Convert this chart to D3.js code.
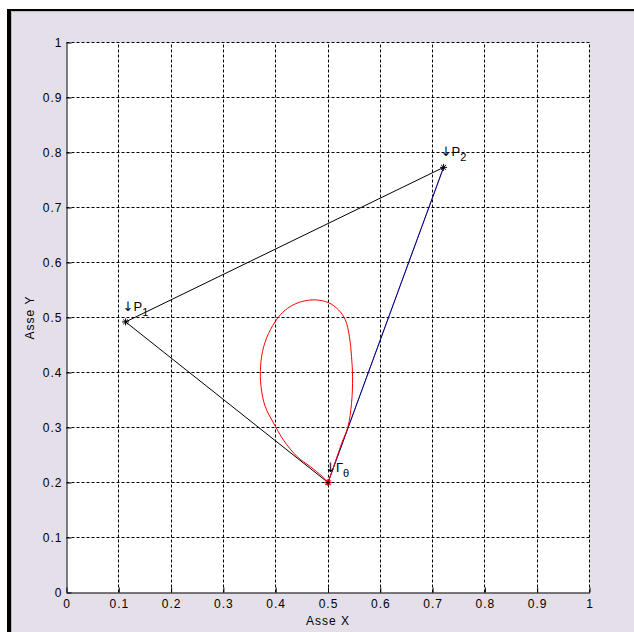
<!DOCTYPE html>
<html>
<head>
<meta charset="utf-8">
<script src="https://cdn.jsdelivr.net/npm/d3@7"></script>
<style>
  html, body { margin: 0; padding: 0; background: #ffffff; }
  svg { display: block; }
  text { font-family: "Liberation Sans", Arial, sans-serif; }
</style>
</head>
<body>
<svg id="chart" width="634" height="632"></svg>
<script>
// Axis ticks and their labels
const tickValues = [0, 0.1, 0.2, 0.3, 0.4, 0.5, 0.6, 0.7, 0.8, 0.9, 1];
const tickLabels = ["0", "0.1", "0.2", "0.3", "0.4", "0.5", "0.6", "0.7", "0.8", "0.9", "1"];

// Triangle vertices P1, P2 and the apex point
const vertexX = [0.113, 0.721, 0.5];
const vertexY = [0.492, 0.773, 0.2];
const vertexNames = ["P", "P", "Γ"];
const vertexSubs = ["1", "2", "θ"];

// Closed red loop, starting and ending at the apex
const loopX = [0.500, 0.513, 0.526, 0.538, 0.545, 0.547, 0.545, 0.541, 0.533, 0.520, 0.501, 0.476,
               0.450, 0.428, 0.409, 0.390, 0.377, 0.371, 0.372, 0.380, 0.396, 0.415, 0.441, 0.466,
               0.489, 0.500];
const loopY = [0.200, 0.235, 0.271, 0.301, 0.344, 0.392, 0.429, 0.465, 0.496, 0.514, 0.527, 0.532,
               0.529, 0.520, 0.505, 0.478, 0.447, 0.411, 0.374, 0.338, 0.308, 0.277, 0.247, 0.229,
               0.211, 0.200];

const svg = d3.select("#chart");

// Window frame: white margin, dark border on top/left, grey figure face
svg.append("rect").attr("x", 0).attr("y", 0).attr("width", 634).attr("height", 632).attr("fill", "#ffffff");
svg.append("rect").attr("x", 7).attr("y", 9).attr("width", 627).attr("height", 623).attr("fill", "#000000");
svg.append("rect").attr("x", 11).attr("y", 11).attr("width", 623).attr("height", 621).attr("fill", "#bdbac0");
svg.append("rect").attr("x", 12).attr("y", 12).attr("width", 622).attr("height", 620).attr("fill", "#e4dfe8");

const x = d3.scaleLinear().domain([0, 1]).range([66.5, 589.5]);
const y = d3.scaleLinear().domain([0, 1]).range([592.5, 42.5]);

// Plot background
svg.append("rect")
  .attr("x", x(0)).attr("y", y(1))
  .attr("width", x(1) - x(0)).attr("height", y(0) - y(1))
  .attr("fill", "#ffffff");

// Dotted grid
const grid = svg.append("g").attr("stroke", "#000").attr("stroke-width", 1)
  .attr("stroke-dasharray", "3,2").attr("fill", "none");
grid.selectAll("line.v").data(tickValues.slice(1)).join("line")
  .attr("class", "v")
  .attr("x1", d => Math.round(x(d) - 0.5) + 0.5).attr("x2", d => Math.round(x(d) - 0.5) + 0.5)
  .attr("y1", y(0)).attr("y2", y(1));
grid.selectAll("line.h").data(tickValues.slice(1)).join("line")
  .attr("class", "h")
  .attr("y1", d => Math.round(y(d) - 0.5) + 0.5).attr("y2", d => Math.round(y(d) - 0.5) + 0.5)
  .attr("x1", x(0)).attr("x2", x(1));

// Axes with inward ticks
const fmt = d => tickLabels[tickValues.indexOf(d)];
const xAxis = d3.axisBottom(x).tickValues(tickValues).tickFormat(fmt)
  .tickSizeInner(-5).tickSizeOuter(0).tickPadding(7);
const yAxis = d3.axisLeft(y).tickValues(tickValues).tickFormat(fmt)
  .tickSizeInner(-5).tickSizeOuter(0).tickPadding(4);

const gx = svg.append("g").attr("transform", `translate(0,${y(0)})`).call(xAxis);
const gy = svg.append("g").attr("transform", `translate(${x(0)},0)`).call(yAxis);
[gx, gy].forEach(g => {
  g.select(".domain").attr("stroke", "#000").attr("stroke-width", 1);
  g.selectAll(".tick line").attr("stroke", "#000");
  g.selectAll(".tick text").attr("fill", "#000")
    .style("font-family", '"Liberation Sans", Arial, sans-serif')
    .style("font-size", "12px").style("letter-spacing", "1px");
});
gy.selectAll(".tick text").attr("x", -4);

// Axis titles
svg.append("text")
  .attr("x", x(0.5)).attr("y", 625)
  .attr("text-anchor", "middle")
  .style("font-size", "12px").style("letter-spacing", "1px")
  .text("Asse X");
svg.append("text")
  .attr("transform", `translate(34,${y(0.5)}) rotate(-90)`)
  .attr("text-anchor", "middle")
  .style("font-size", "12px").style("letter-spacing", "1px")
  .text("Asse Y");

// Triangle sides
const seg = (i, j) => [[vertexX[i], vertexY[i]], [vertexX[j], vertexY[j]]];
const line = d3.line().x(d => x(d[0])).y(d => y(d[1]));
const sides = svg.append("g").attr("fill", "none").attr("stroke-width", 1);
sides.append("path").attr("d", line(seg(0, 1))).attr("stroke", "#000");
sides.append("path").attr("d", line(seg(0, 2))).attr("stroke", "#000");
sides.append("path").attr("d", line(seg(1, 2))).attr("stroke", "#0000ff");
sides.append("path").attr("d", line(seg(1, 2))).attr("stroke", "#000").attr("stroke-opacity", 0.55);

// Red loop
const loopPts = loopX.map((v, i) => [v, loopY[i]]);
svg.append("path")
  .attr("d", d3.line().x(d => x(d[0])).y(d => y(d[1])).curve(d3.curveCatmullRom.alpha(0.5))(loopPts))
  .attr("fill", "none").attr("stroke", "#ff0000").attr("stroke-width", 1);

// Asterisk markers
const star = r => {
  const a = r * Math.SQRT1_2;
  return `M${-r},0L${r},0M0,${-r}L0,${r}M${-a},${-a}L${a},${a}M${-a},${a}L${a},${-a}`;
};
const markers = svg.append("g").attr("fill", "none");
vertexX.forEach((vx, i) => {
  const g = markers.append("g").attr("transform", `translate(${x(vx)},${y(vertexY[i])})`);
  if (i === 2) {
    g.append("path").attr("d", star(3.5)).attr("stroke", "#ff0000").attr("stroke-width", 1.3);
    g.append("path").attr("d", `M-2,0L2,0M0,-2L0,2`).attr("stroke", "#000").attr("stroke-width", 1);
  } else {
    g.append("path").attr("d", star(3.5)).attr("stroke", "#000").attr("stroke-width", 1);
  }
});

// Point labels: down arrow, name and subscript
vertexX.forEach((vx, i) => {
  const t = svg.append("text")
    .attr("x", x(vx) - 3)
    .attr("y", y(vertexY[i]) - 11)
    .style("font-size", "13px");
  t.append("tspan").style("font-family", '"DejaVu Sans", sans-serif')
    .style("font-size", "13px").text("↓");
  t.append("tspan").text(vertexNames[i]);
  t.append("tspan").attr("dy", 5).style("font-size", "11px").text(vertexSubs[i]);
});
</script>
</body>
</html>
